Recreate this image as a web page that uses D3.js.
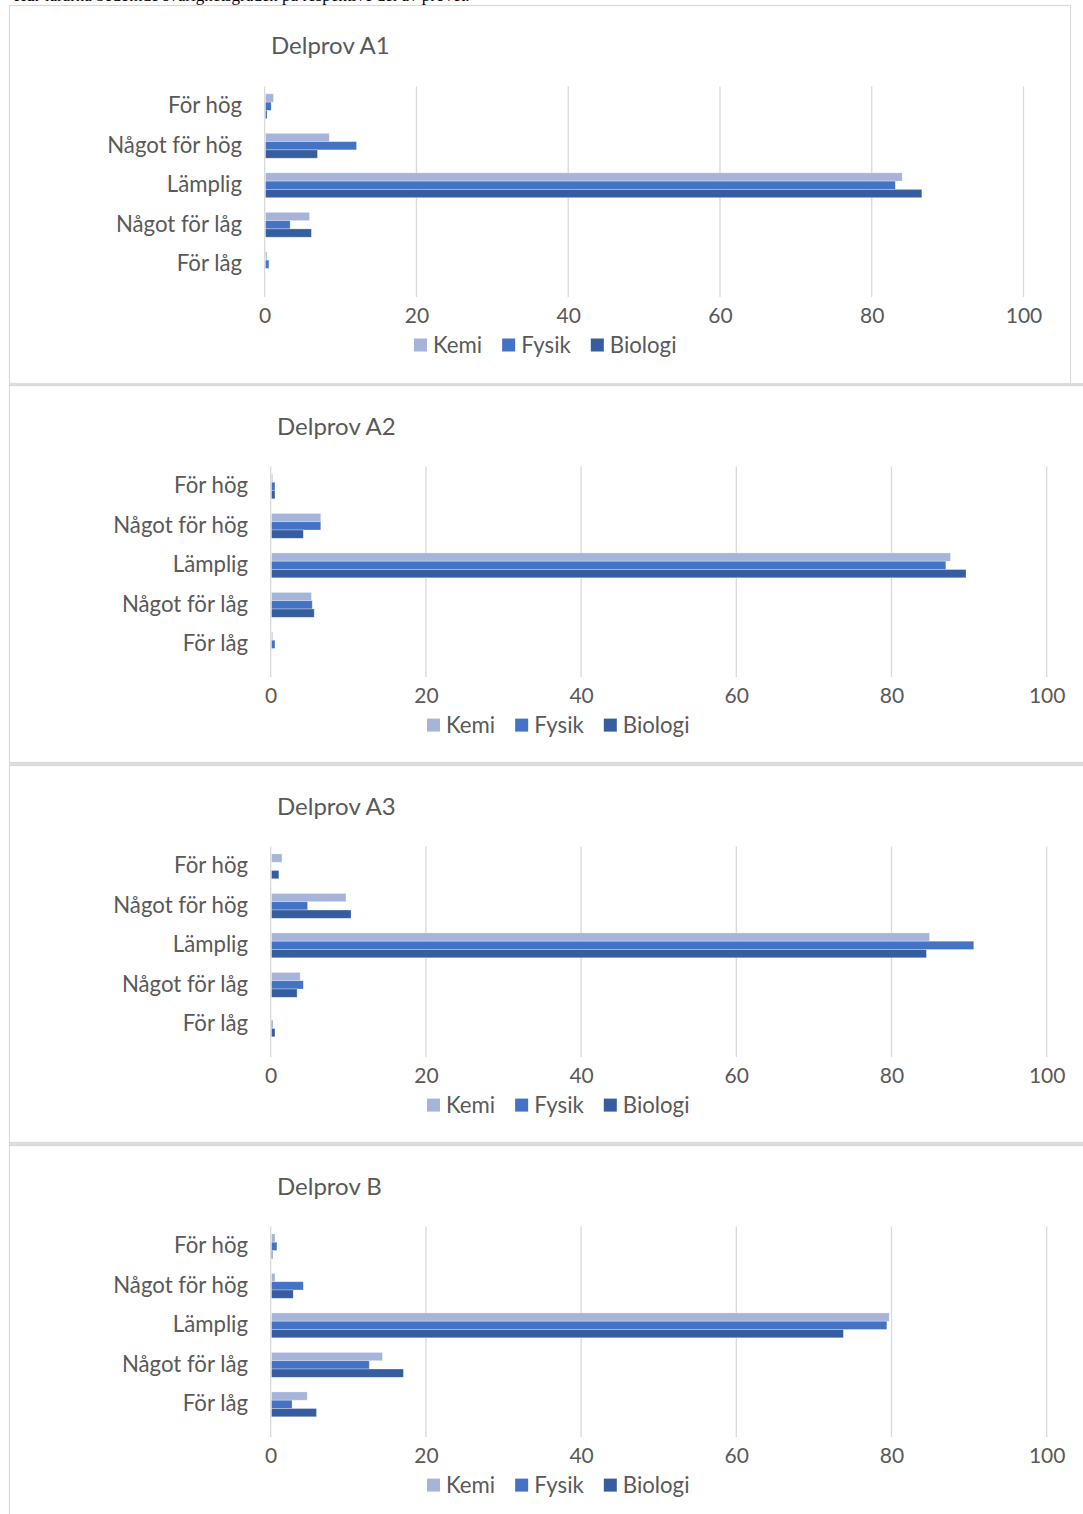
<!DOCTYPE html>
<html><head><meta charset="utf-8">
<script src="https://cdn.jsdelivr.net/npm/d3@7"></script>
<style>html,body{margin:0;padding:0;background:#fff;overflow:hidden}</style>
</head><body>
<script>
// ---- data ----
const categories = ["För hög", "Något för hög", "Lämplig", "Något för låg", "För låg"];
const seriesNames = ["Kemi", "Fysik", "Biologi"];
const panelTitles = ["Delprov A1", "Delprov A2", "Delprov A3", "Delprov B"];
const xTicks = [0, 20, 40, 60, 80, 100];

const kemiA1 = [1.05, 8.4, 83.9, 5.8, 0.2];
const fysikA1 = [0.75, 12.0, 83.0, 3.25, 0.45];
const biologiA1 = [0.2, 6.85, 86.5, 6.05, 0];

const kemiA2 = [0.15, 6.35, 87.5, 5.15, 0.15];
const fysikA2 = [0.45, 6.35, 86.9, 5.25, 0.45];
const biologiA2 = [0.45, 4.1, 89.5, 5.5, 0];

const kemiA3 = [1.35, 9.6, 84.8, 3.7, 0];
const fysikA3 = [0, 4.65, 90.5, 4.1, 0.15];
const biologiA3 = [0.95, 10.25, 84.4, 3.3, 0.45];

const kemiB = [0.45, 0.45, 79.6, 14.3, 4.6];
const fysikB = [0.7, 4.1, 79.3, 12.6, 2.65];
const biologiB = [0.15, 2.8, 73.7, 17.0, 5.8];

const panelSeries = [
  [kemiA1, fysikA1, biologiA1],
  [kemiA2, fysikA2, biologiA2],
  [kemiA3, fysikA3, biologiA3],
  [kemiB, fysikB, biologiB]
];

// ---- style ----
const colors = ["#A7B4D9", "#4472C4", "#365DA0"];
const textColor = "#595959";
const gridColor = "#d9d9d9";
const font = "Lato, 'Open Sans', sans-serif";

const W = 1083, H = 1514;
const svg = d3.select("body").append("svg").attr("width", W).attr("height", H);

// cut-off line of document text above the charts
svg.append("text").attr("x", 14).attr("y", 1)
  .attr("font-family", "'Liberation Serif', serif").attr("font-size", 17).attr("fill", "#000")
  .text("Hur lärarna bedömde svårighetsgraden på respektive del av provet.");

// panel frames
svg.append("rect").attr("x", 9.5).attr("y", 5.5).attr("width", 1061).attr("height", 378)
  .attr("fill", "none").attr("stroke", gridColor).attr("stroke-width", 1.2);
for (let i = 1; i < 4; i++) {
  const top = 385.5 + 380 * (i - 1);
  svg.append("rect").attr("x", 9).attr("y", top - 2.5).attr("width", 1080).attr("height", 3)
    .attr("fill", "#dedede");
  svg.append("rect").attr("x", 9.5).attr("y", top).attr("width", 1100).attr("height", 377)
    .attr("fill", "none").attr("stroke", gridColor).attr("stroke-width", 1.2);
}

function drawPanel(p) {
  const oy = p === 0 ? 0 : 380 * (p - 1) + 380.1;
  const x0 = p === 0 ? 264.7 : 270.7;
  const x1 = p === 0 ? 1023.5 : 1046.7;
  const top = 86.5 + oy;
  const bottom = top + 197.5;
  const g = svg.append("g");

  const x = d3.scaleLinear().domain([0, 100]).range([x0, x1]);
  const y = d3.scaleBand().domain(categories).range([top, bottom])
    .paddingInner(0.37).paddingOuter(0.185);
  const ys = d3.scaleBand().domain(seriesNames).range([0, y.bandwidth()]);

  // gridlines
  g.append("g").selectAll("line").data(xTicks).join("line")
    .attr("x1", d => x(d)).attr("x2", d => x(d))
    .attr("y1", top).attr("y2", bottom + 13)
    .attr("stroke", gridColor).attr("stroke-width", 1.3);

  // title
  g.append("text").attr("x", x0 + 6.3).attr("y", 46 + oy).attr("dy", "0.35em")
    .attr("font-family", font).attr("font-size", 24).attr("fill", textColor)
    .text(panelTitles[p]);

  // bars
  const vals = panelSeries[p];
  seriesNames.forEach((s, si) => {
    g.append("g").selectAll("rect").data(vals[si]).join("rect")
      .attr("x", x(0) + 0.8)
      .attr("y", (d, i) => y(categories[i]) + ys(s))
      .attr("width", d => Math.max(0, x(d) - x(0)))
      .attr("height", ys.bandwidth())
      .attr("fill", colors[si])
      .attr("stroke", "#fff").attr("stroke-opacity", 0.45).attr("stroke-width", 0.7);
  });

  // category axis labels
  const yAxis = d3.axisLeft(y).tickSize(0).tickPadding(0);
  const ya = g.append("g").attr("transform", `translate(${x0 - 22.7},0)`).call(yAxis);
  ya.select(".domain").remove();
  ya.selectAll("text").attr("font-family", font).attr("font-size", 22.2).attr("fill", textColor);

  // value axis
  const xAxis = d3.axisBottom(x).tickValues(xTicks).tickSize(0).tickPadding(0);
  const xa = g.append("g").attr("transform", `translate(0,${316 + oy})`).call(xAxis);
  xa.select(".domain").remove();
  xa.selectAll("text").attr("dy", "0.35em").attr("font-family", font).attr("font-size", 21).attr("fill", textColor);

  // legend
  const legX = p === 0 ? 414 : 427;
  const legY = 345 + oy;
  let cx = legX;
  seriesNames.forEach((s, si) => {
    g.append("rect").attr("x", cx).attr("y", legY - 6.5).attr("width", 13).attr("height", 13).attr("fill", colors[si]);
    const t = g.append("text").attr("x", cx + 19).attr("y", legY).attr("dy", "0.35em")
      .attr("font-family", font).attr("font-size", 22.2).attr("fill", textColor).text(s);
    cx += 19 + t.node().getComputedTextLength() + 20;
  });
}

for (let p = 0; p < 4; p++) drawPanel(p);
</script>
</body></html>
